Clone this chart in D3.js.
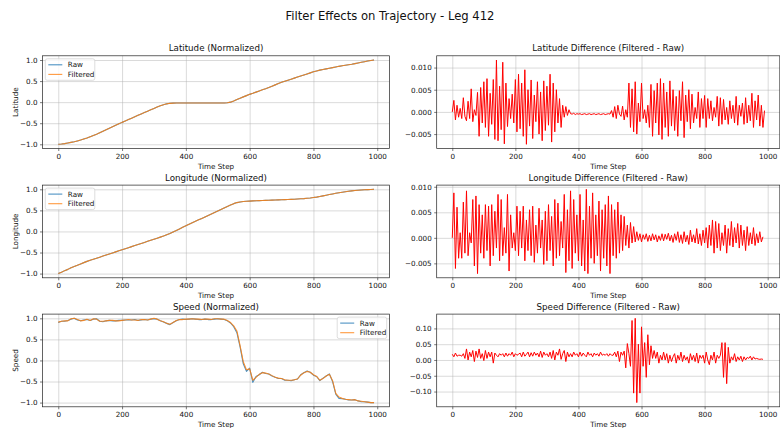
<!DOCTYPE html>
<html><head><meta charset="utf-8">
<script src="https://cdn.jsdelivr.net/npm/d3@7"></script>
<style>
body{margin:0;background:#fff;}
text{font-family:"DejaVu Sans",sans-serif;fill:#111;}
</style></head><body>
<svg id="c" width="780" height="428"></svg>
<script>
// ---- data (time step sampled every 10 for trajectories, every 5 for differences) ----
const xTicks=[0,200,400,600,800,1000];
const leftYTicks=[-1.0,-0.5,0.0,0.5,1.0];
const latDiffTicks=[-0.005,0.000,0.005,0.010];
const lonDiffTicks=[-0.005,0.000,0.005,0.010];
const spdDiffTicks=[-0.10,-0.05,0.00,0.05,0.10];

const latFiltered=[-1.00,-0.995,-0.985,-0.97,-0.955,-0.94,-0.92,-0.90,-0.875,-0.85,-0.82,-0.79,-0.76,-0.725,-0.69,-0.655,-0.62,-0.585,-0.55,-0.515,-0.48,-0.447,-0.414,-0.38,-0.346,-0.312,-0.28,-0.247,-0.214,-0.18,-0.148,-0.115,-0.085,-0.06,-0.04,-0.028,-0.022,-0.02,-0.02,-0.02,-0.02,-0.02,-0.02,-0.02,-0.02,-0.02,-0.02,-0.02,-0.02,-0.02,-0.02,-0.02,-0.02,-0.015,0.0,0.025,0.06,0.095,0.125,0.155,0.185,0.21,0.238,0.265,0.292,0.32,0.35,0.38,0.41,0.44,0.47,0.495,0.52,0.545,0.57,0.595,0.62,0.645,0.67,0.695,0.72,0.74,0.76,0.775,0.79,0.805,0.82,0.835,0.85,0.862,0.875,0.888,0.9,0.915,0.93,0.945,0.96,0.975,0.99,1.0];
const latRaw=[-1.00,-0.995,-0.985,-0.97,-0.955,-0.94,-0.92,-0.90,-0.875,-0.85,-0.82,-0.79,-0.76,-0.725,-0.69,-0.655,-0.62,-0.585,-0.55,-0.515,-0.48,-0.447,-0.414,-0.38,-0.346,-0.312,-0.28,-0.247,-0.214,-0.18,-0.148,-0.115,-0.085,-0.06,-0.04,-0.028,-0.022,-0.02,-0.02,-0.02,-0.02,-0.02,-0.02,-0.02,-0.02,-0.02,-0.02,-0.02,-0.02,-0.02,-0.02,-0.02,-0.02,-0.015,0.0,0.025,0.06,0.095,0.125,0.155,0.185,0.21,0.238,0.265,0.292,0.32,0.35,0.38,0.41,0.44,0.47,0.495,0.52,0.545,0.57,0.595,0.62,0.645,0.67,0.695,0.72,0.74,0.76,0.775,0.79,0.805,0.82,0.835,0.85,0.862,0.875,0.888,0.9,0.915,0.93,0.945,0.96,0.975,0.99,1.0];

const lonFiltered=[-1.0,-0.97,-0.93,-0.9,-0.86,-0.83,-0.8,-0.77,-0.74,-0.71,-0.685,-0.66,-0.635,-0.61,-0.585,-0.56,-0.535,-0.51,-0.485,-0.46,-0.435,-0.41,-0.385,-0.36,-0.335,-0.31,-0.285,-0.26,-0.235,-0.21,-0.185,-0.16,-0.135,-0.11,-0.08,-0.05,-0.015,0.02,0.06,0.1,0.135,0.17,0.205,0.24,0.275,0.31,0.345,0.38,0.415,0.45,0.485,0.52,0.555,0.59,0.625,0.66,0.685,0.70,0.71,0.715,0.72,0.725,0.728,0.731,0.734,0.737,0.74,0.743,0.746,0.749,0.752,0.755,0.758,0.761,0.765,0.77,0.775,0.78,0.787,0.795,0.805,0.815,0.83,0.845,0.86,0.875,0.89,0.905,0.92,0.932,0.943,0.953,0.962,0.97,0.977,0.983,0.988,0.993,0.997,1.0];
const lonRaw=[-1.0,-0.97,-0.93,-0.9,-0.86,-0.83,-0.8,-0.77,-0.74,-0.71,-0.685,-0.66,-0.635,-0.61,-0.585,-0.56,-0.535,-0.51,-0.485,-0.46,-0.435,-0.41,-0.385,-0.36,-0.335,-0.31,-0.285,-0.26,-0.235,-0.21,-0.185,-0.16,-0.135,-0.11,-0.08,-0.05,-0.015,0.02,0.06,0.1,0.135,0.17,0.205,0.24,0.275,0.31,0.345,0.38,0.415,0.45,0.485,0.52,0.555,0.59,0.625,0.66,0.685,0.70,0.71,0.715,0.72,0.725,0.728,0.731,0.734,0.737,0.74,0.743,0.746,0.749,0.752,0.755,0.758,0.761,0.765,0.77,0.775,0.78,0.787,0.795,0.805,0.815,0.83,0.845,0.86,0.875,0.89,0.905,0.92,0.932,0.943,0.953,0.962,0.97,0.977,0.983,0.988,0.993,0.997,1.0];

const spdFiltered=[0.91,0.93,0.94,0.94,0.99,1.0,0.97,0.94,0.95,0.98,0.95,0.99,0.98,0.93,0.93,0.94,0.95,0.95,0.94,0.94,0.95,0.96,0.97,0.96,0.96,0.95,0.97,0.97,0.96,0.98,1.0,0.98,0.94,0.92,0.88,0.86,0.9,0.95,0.97,0.97,0.98,0.98,0.99,0.98,0.98,0.97,0.98,0.98,0.97,0.99,0.99,0.98,0.98,0.95,0.9,0.82,0.7,0.35,-0.03,-0.22,-0.2,-0.47,-0.4,-0.33,-0.29,-0.3,-0.32,-0.36,-0.4,-0.42,-0.43,-0.46,-0.47,-0.47,-0.46,-0.44,-0.35,-0.29,-0.26,-0.28,-0.34,-0.38,-0.47,-0.43,-0.37,-0.33,-0.48,-0.78,-0.87,-0.9,-0.92,-0.93,-0.94,-0.93,-0.96,-0.97,-0.98,-0.99,-1.0,-1.0];
const spdRaw=[0.90,0.93,0.93,0.95,0.98,1.0,0.96,0.94,0.96,0.97,0.95,0.98,0.99,0.93,0.92,0.94,0.95,0.94,0.94,0.95,0.95,0.96,0.96,0.96,0.97,0.95,0.96,0.97,0.96,0.98,0.99,0.98,0.94,0.91,0.88,0.85,0.9,0.94,0.97,0.98,0.97,0.98,0.99,0.98,0.97,0.97,0.98,0.97,0.97,0.98,0.99,0.98,0.97,0.94,0.89,0.8,0.66,0.32,-0.08,-0.26,-0.18,-0.52,-0.38,-0.34,-0.28,-0.31,-0.32,-0.37,-0.4,-0.43,-0.43,-0.47,-0.47,-0.48,-0.46,-0.44,-0.34,-0.29,-0.25,-0.28,-0.35,-0.38,-0.48,-0.42,-0.37,-0.32,-0.5,-0.8,-0.9,-0.91,-0.92,-0.94,-0.94,-0.93,-0.96,-0.98,-0.98,-0.99,-1.0,-1.0];

// differences, in thousandths (lat/lon) and hundredths (speed)
const latDiff=[0,2.6,-1.8,1.5,-1.2,0.8,-1.5,3.2,-1,-2,2.4,-1.5,5.2,-2.2,0.5,-0.8,4.4,-5.5,5.5,-2.5,
6.8,-3.5,7.5,-5.5,4.2,-2.8,7.3,-6.2,11.7,-6.5,5.8,-4,11.2,-7.2,6.5,-3.3,3,-1.5,4,-2.5,
7.3,-4.5,8.5,-3.8,6.5,-5.5,9.5,-7.3,5,-3.2,7.2,-6,3.8,-2.2,6.8,-5,4.5,-6.5,7,-4.2,
5.8,-3,8.5,-6.8,6.5,-4.5,5,-2.5,3,-3.5,1.5,-1.2,1.2,-0.8,0.5,-0.4,-0.5,-0.3,-0.6,-0.4,
-0.5,-0.4,-0.6,-0.5,-0.4,-0.6,-0.5,-0.4,-0.6,-0.5,-0.4,-0.6,-0.5,-0.4,-0.6,-0.5,-0.4,-0.6,-0.5,-0.4,
-0.5,0.3,-1.2,1.2,-1.5,1.5,-0.5,-1,1.3,-1.8,0.5,-1.2,6.5,-3.5,5.2,-4.5,6.8,-5,2,-2.2,
6.5,-1.5,0.5,-2.5,1.5,-3.5,6.2,-5.5,4.8,-2.5,6.5,-5.2,7.5,-6.2,6.5,-3.5,4.5,-5.5,7,-3.2,
5,-4.2,3.5,-5.5,4.8,-2,6.8,-5.8,3.8,-2.2,5,-3.8,4,-2.5,1,-1.5,4.5,-3.5,3,-1.5,
3.7,-3.5,3,-1.5,2.5,-2,1,-1.2,3.5,-3.2,3.2,-2.8,2.8,-1.8,1,-2.8,2.5,-1.5,1.5,-2.5,
3.5,-3,1.5,-1,2,-2.8,3.2,-2.5,1.5,-2,4.2,-3.5,2.5,-1.8,3.8,-3.2,1.5,-3.5,0.3];
const lonDiff=[0,8.8,-6,6,-4,1,-4,7,-3,9.2,-3.5,1,-1,7.5,-5.5,8.2,-7,6.5,-3,4.5,
-4,6.5,-2.5,6.2,-5.5,6.5,-3.5,5.2,-2,8.5,-4.5,7.5,-3.5,2,-3,8.5,-6.5,4.5,-2,1,
-2.5,6.2,-3.5,5.2,-2,6.2,-4.5,3.5,-2.5,5.5,-3.5,6.2,-4.8,2.5,-3,5.8,-2,3.5,-5.2,5.2,
-4.5,6.5,-2.5,4.2,-5.5,7.5,-4,6.8,-3.5,3.2,-2,8.5,-6.8,5.5,-4.5,9.2,-6,7.5,-3,4.5,
-4.5,8.5,-5.5,3.5,-6.5,9.5,-7,6.2,-4,8.8,-5,4.5,-3.5,7.2,-6.5,5.5,-4,6.5,-5.5,8.2,
-7,6.5,-3.5,5.5,-4,7,-3,4.5,-2.5,4.2,-1.5,2.5,-2,3,-1,2.2,-0.8,1.2,-0.5,0.8,
-0.8,0.6,-0.3,0.8,-0.7,0.5,-0.6,0.8,-0.4,0.6,-0.8,0.4,-0.5,0.8,-0.6,0.7,-0.3,0.9,-0.6,0.5,
-0.9,0.8,-0.5,1.2,-0.9,0.6,-1.1,1.2,-0.8,0.5,-1.3,1.5,-0.8,0.6,-1,1.8,-1.2,0.8,-1.5,1.5,
-1,2,-2,2.5,-1.5,3.5,-3,3.2,-2,2.8,-2.5,1,-1.5,2.5,-3,1.8,-1.5,3.2,-1.8,2,
-1,2.8,-2,2.5,-1.5,1.5,-2.5,2.2,-1.5,1,-1.2,2,-1.5,0.8,-1,1.2,-0.8,0.2];
const spdDiff=[1.8,1,2.2,1.2,1.5,1.5,1.2,2,0.5,3.5,0,2.5,1,3,-0.5,2.8,0.8,3.5,0.5,2,
-0.2,3,0.5,2.5,1,2.5,-1,2.2,1.5,1,2,1.5,2,1,2.2,1.2,2,1.5,2.5,1,
2,1.5,1.8,2.2,1,2.5,1.2,1.8,2.5,1,2.3,1.2,2.5,1.5,2.2,1,2.8,0.8,2.5,1.5,
2,1,2.5,0.5,3,0,2.5,1.5,3.5,0.2,2,3,-0.5,2.5,1,2,1,2.5,1.5,2,
1,2.5,1.2,2.2,1.5,1,2.5,1.5,2,1,2.2,1.5,2,1.2,2.5,1.5,1.8,1.5,2,1.2,
2,1.5,1.5,2.5,1,2.8,-0.5,2.5,1.5,2.8,-2.5,5.2,2,-2,12.5,-10.5,13.2,-13.5,5,-10.5,
10.5,-2,5.5,-5.5,8,-1.5,4.5,0.5,3,0.5,2.5,-1,1.5,0,2.5,0,2,-1,1.5,-0.5,
1,2,-1,1.5,0,2.5,-0.5,1.5,0,1,-1,2,0,1.5,-0.5,2.2,-1,1.5,0.5,1.5,
-1,2.5,0,-1.5,1.5,0,2.5,-1,1.5,0.5,1.5,5.5,-5.5,5.5,-7.5,4,-1,1,0,2,
-0.5,1,0,1.2,-0.5,1,0,0.8,0.5,1.2,0,1,0.3,0.5,0.3,0.2,0.3,0.2];

// ---- drawing ----
const svg=d3.select("#c");
const BLUE="#1f77b4", ORANGE="#ff7f0e", RED="#ff0000";
const MINUS="\u2212";
svg.append("text").attr("x",390).attr("y",19.5).attr("text-anchor","middle")
  .style("font-size","11.6px").text("Filter Effects on Trajectory - Leg 412");

const rowsTop=[55.8,185.1,314.1], H=92.7;
const cols=[{x0:42.5,w:347},{x0:436.7,w:343.1}];

function panel(o){
  const g=svg.append("g");
  const x=d3.scaleLinear().domain([-49.45,1038.45]).range([o.x0,o.x0+o.w]);
  let lo=d3.min(o.series,s=>d3.min(s.values)*s.scale), hi=d3.max(o.series,s=>d3.max(s.values)*s.scale);
  const m=(hi-lo)*0.05;
  const y=d3.scaleLinear().domain([lo-m,hi+m]).range([o.y0+H,o.y0]);
  const fmt=v=>d3.format(o.fmt)(v).replace("-",MINUS);
  // grid
  g.append("g").attr("transform",`translate(0,${o.y0+H})`)
    .call(d3.axisBottom(x).tickValues(xTicks).tickSize(-H).tickFormat(""))
    .call(a=>{a.select(".domain").remove();a.selectAll("line").attr("stroke","#b0b0b0").attr("stroke-opacity",0.6).attr("stroke-width",0.8);});
  g.append("g").attr("transform",`translate(${o.x0},0)`)
    .call(d3.axisLeft(y).tickValues(o.yTicks).tickSize(-o.w).tickFormat(""))
    .call(a=>{a.select(".domain").remove();a.selectAll("line").attr("stroke","#b0b0b0").attr("stroke-opacity",0.6).attr("stroke-width",0.8);});
  // lines
  const clipId="clip"+Math.round(o.x0)+"_"+Math.round(o.y0);
  svg.append("clipPath").attr("id",clipId).append("rect").attr("x",o.x0).attr("y",o.y0).attr("width",o.w).attr("height",H);
  o.series.forEach(s=>{
    const line=d3.line().x((d,i)=>x(i*s.step)).y(d=>y(d*s.scale));
    g.append("path").datum(s.values).attr("d",line).attr("fill","none")
      .attr("stroke",s.color).attr("stroke-opacity",s.alpha).attr("stroke-width",s.lw).attr("stroke-linejoin","round").attr("clip-path",`url(#${clipId})`);
  });
  // axes
  const ax=g.append("g").attr("transform",`translate(0,${o.y0+H})`)
    .call(d3.axisBottom(x).tickValues(xTicks).tickSize(2.5).tickPadding(2.5).tickFormat(d3.format("d")));
  const ay=g.append("g").attr("transform",`translate(${o.x0},0)`)
    .call(d3.axisLeft(y).tickValues(o.yTicks).tickSize(2.5).tickPadding(2.5).tickFormat(fmt));
  [ax,ay].forEach(a=>{a.select(".domain").remove();a.selectAll("line").attr("stroke","#222").attr("stroke-width",0.6);
    a.selectAll("text").style("font-size","7.2px").style("font-family","DejaVu Sans").attr("fill","#111");});
  g.append("rect").attr("x",o.x0).attr("y",o.y0).attr("width",o.w).attr("height",H)
    .attr("fill","none").attr("stroke","#222").attr("stroke-width",0.7);
  // title & labels
  g.append("text").attr("x",o.x0+o.w/2).attr("y",o.y0-4.5).attr("text-anchor","middle").style("font-size","8.7px").text(o.title);
  g.append("text").attr("x",o.x0+o.w/2).attr("y",o.y0+H+20.5).attr("text-anchor","middle").style("font-size","7.2px").text("Time Step");
  if(o.ylabel){
    g.append("text").attr("transform",`translate(${o.x0-24.5},${o.y0+H/2}) rotate(-90)`).attr("text-anchor","middle").style("font-size","7.2px").text(o.ylabel);
  }
  if(o.legend){
    const bw=49.5,bh=21.5;
    const bx=o.legend==="left"?o.x0+2.8:o.x0+o.w-2.8-bw, by=o.y0+3;
    const lg=g.append("g");
    lg.append("rect").attr("x",bx).attr("y",by).attr("width",bw).attr("height",bh).attr("rx",2)
      .attr("fill","#fff").attr("fill-opacity",0.8).attr("stroke","#d0d0d0").attr("stroke-width",0.7);
    [["Raw",BLUE],["Filtered",ORANGE]].forEach((e,i)=>{
      const yy=by+6+i*9.6;
      lg.append("line").attr("x1",bx+3).attr("x2",bx+17).attr("y1",yy).attr("y2",yy).attr("stroke",e[1]).attr("stroke-opacity",0.8).attr("stroke-width",1.1);
      lg.append("text").attr("x",bx+22.5).attr("y",yy+2.6).style("font-size","7.2px").text(e[0]);
    });
  }
}

panel({x0:cols[0].x0,w:cols[0].w,y0:rowsTop[0],title:"Latitude (Normalized)",ylabel:"Latitude",yTicks:leftYTicks,fmt:".1f",legend:"left",
  series:[{values:latRaw,step:10,scale:1,color:BLUE,alpha:0.8,lw:1.1},{values:latFiltered,step:10,scale:1,color:ORANGE,alpha:0.85,lw:1.1}]});
panel({x0:cols[0].x0,w:cols[0].w,y0:rowsTop[1],title:"Longitude (Normalized)",ylabel:"Longitude",yTicks:leftYTicks,fmt:".1f",legend:"left",
  series:[{values:lonRaw,step:10,scale:1,color:BLUE,alpha:0.8,lw:1.1},{values:lonFiltered,step:10,scale:1,color:ORANGE,alpha:0.85,lw:1.1}]});
panel({x0:cols[0].x0,w:cols[0].w,y0:rowsTop[2],title:"Speed (Normalized)",ylabel:"Speed",yTicks:leftYTicks,fmt:".1f",legend:"right",
  series:[{values:spdRaw,step:10,scale:1,color:BLUE,alpha:0.8,lw:1.1},{values:spdFiltered,step:10,scale:1,color:ORANGE,alpha:0.85,lw:1.1}]});
panel({x0:cols[1].x0,w:cols[1].w,y0:rowsTop[0],title:"Latitude Difference (Filtered - Raw)",yTicks:latDiffTicks,fmt:".3f",
  series:[{values:latDiff,step:5,scale:0.001,color:RED,alpha:1,lw:1.0}]});
panel({x0:cols[1].x0,w:cols[1].w,y0:rowsTop[1],title:"Longitude Difference (Filtered - Raw)",yTicks:lonDiffTicks,fmt:".3f",
  series:[{values:lonDiff,step:5,scale:0.001,color:RED,alpha:1,lw:1.0}]});
panel({x0:cols[1].x0,w:cols[1].w,y0:rowsTop[2],title:"Speed Difference (Filtered - Raw)",yTicks:spdDiffTicks,fmt:".2f",
  series:[{values:spdDiff,step:5,scale:0.01,color:RED,alpha:1,lw:1.0}]});
</script>
</body></html>
